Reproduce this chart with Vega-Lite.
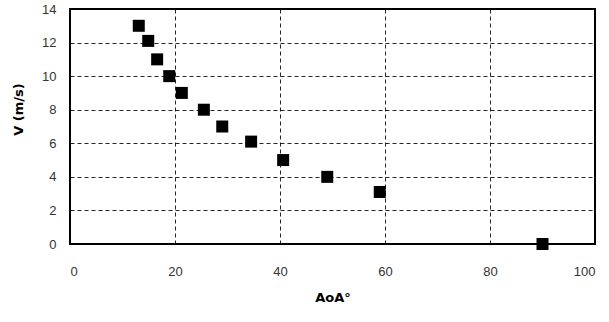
{
  "$schema": "https://vega.github.io/schema/vega-lite/v6.json",
  "width": 525,
  "height": 235,
  "autosize": {"type": "none"},
  "padding": {"left": 70, "top": 9, "right": 14, "bottom": 78},
  "background": "white",
  "config": {
    "view": {"stroke": "black", "strokeWidth": 2},
    "axis": {
      "grid": true,
      "gridColor": "black",
      "gridDash": [4, 3],
      "gridWidth": 1,
      "gridOpacity": 0.85,
      "domain": false,
      "ticks": false,
      "labelFont": "Liberation Sans",
      "labelFontSize": 13,
      "labelColor": "#333333",
      "titleFont": "DejaVu Sans",
      "titleFontWeight": "bold",
      "titleFontSize": 13,
      "titleColor": "black"
    }
  },
  "data": {
    "values": [
      {"aoa": 13.1, "v": 13},
      {"aoa": 14.9, "v": 12.1},
      {"aoa": 16.6, "v": 11},
      {"aoa": 18.9, "v": 10},
      {"aoa": 21.3, "v": 9},
      {"aoa": 25.5, "v": 8},
      {"aoa": 29, "v": 7},
      {"aoa": 34.5, "v": 6.1},
      {"aoa": 40.6, "v": 5},
      {"aoa": 49, "v": 4},
      {"aoa": 59, "v": 3.1},
      {"aoa": 90, "v": 0}
    ]
  },
  "mark": {"type": "square", "filled": true, "color": "black", "size": 144, "opacity": 1, "clip": false},
  "encoding": {
    "x": {
      "field": "aoa", "type": "quantitative", "title": "AoA°",
      "scale": {"domain": [0, 100], "nice": false},
      "axis": {"values": [0, 20, 40, 60, 80, 100], "labelPadding": 21, "titlePadding": 13}
    },
    "y": {
      "field": "v", "type": "quantitative", "title": "V (m/s)",
      "scale": {"domain": [0, 14], "nice": false},
      "axis": {"values": [0, 2, 4, 6, 8, 10, 12, 14], "labelPadding": 14, "titlePadding": 16, "titleY": 100}
    }
  }
}
